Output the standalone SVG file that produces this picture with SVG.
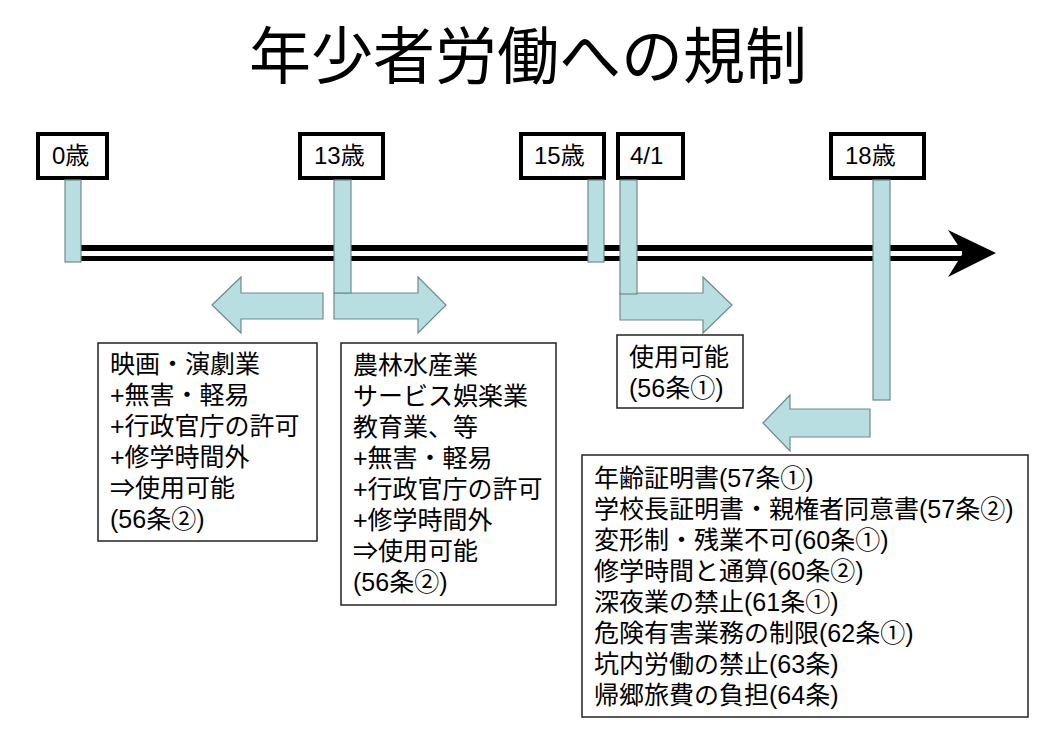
<svg xmlns="http://www.w3.org/2000/svg" width="1059" height="745" viewBox="0 0 1059 745">
<style>
text{font-family:"Liberation Sans","Noto Sans CJK JP",sans-serif;fill:#000}
.t{font-size:62px}
.lbl{font-size:24px}
.bd{font-size:25px}
.lb{fill:#fff;stroke:#000;stroke-width:4}
.bx{fill:#fff;stroke:#222;stroke-width:1.5}
.blue{fill:#B9DEE1;stroke:#6E8B8C;stroke-width:1.2}
</style>
<rect width="1059" height="745" fill="#fff"/>
<text class="t" x="528" y="79" text-anchor="middle">年少者労働への規制</text>

<g id="connectors">
  <rect x="70" y="245" width="895" height="16" fill="#000"/>
  <rect x="70" y="251" width="892" height="5" fill="#fff"/>
  <polygon points="948,230 996,253 948,277 963,253" fill="#000"/>
  <polygon class="blue" points="212,305 241,277 241,293 323,293 323,319 241,319 241,333"/>
  <polygon class="blue" points="334,293 418,293 418,277 446,305 418,333 418,319 334,319"/>
  <polygon class="blue" points="620,293 703,293 703,277 732,305 703,333 703,320 620,320"/>
  <polygon class="blue" points="763,423 790,395 790,409 870,409 870,437 790,437 790,451"/>
</g>

<g id="age0">
  <rect class="lb" x="38" y="134" width="69" height="44"/>
  <text class="lbl" x="52" y="164">0歳</text>
  <rect class="blue" x="65" y="180" width="16" height="82"/>
</g>
<g id="age13">
  <rect class="lb" x="300" y="134" width="83" height="44"/>
  <text class="lbl" x="314" y="164">13歳</text>
  <rect class="blue" x="334" y="180" width="17" height="113"/>
</g>
<g id="age15">
  <rect class="lb" x="521" y="134" width="83" height="44"/>
  <text class="lbl" x="534" y="164">15歳</text>
  <rect class="blue" x="588" y="180" width="16" height="82"/>
</g>
<g id="apr1">
  <rect class="lb" x="618" y="134" width="65" height="44"/>
  <text class="lbl" x="630" y="164">4/1</text>
  <rect class="blue" x="620" y="180" width="17" height="114"/>
</g>
<g id="age18">
  <rect class="lb" x="831" y="134" width="93" height="44"/>
  <text class="lbl" x="845" y="164">18歳</text>
  <rect class="blue" x="873" y="180" width="17" height="220"/>
</g>

<g id="boxA">
  <rect class="bx" x="98" y="343" width="219" height="198"/>
  <text class="bd" x="110" y="373">映画・演劇業</text>
  <text class="bd" x="110" y="404">+無害・軽易</text>
  <text class="bd" x="110" y="435">+行政官庁の許可</text>
  <text class="bd" x="110" y="466">+修学時間外</text>
  <text class="bd" x="110" y="497">⇒使用可能</text>
  <text class="bd" x="110" y="528">(56条②)</text>
</g>
<g id="boxB">
  <rect class="bx" x="341" y="343" width="215" height="262"/>
  <text class="bd" x="353" y="374">農林水産業</text>
  <text class="bd" x="353" y="405">サービス娯楽業</text>
  <text class="bd" x="353" y="436">教育業、等</text>
  <text class="bd" x="353" y="467">+無害・軽易</text>
  <text class="bd" x="353" y="498">+行政官庁の許可</text>
  <text class="bd" x="353" y="529">+修学時間外</text>
  <text class="bd" x="353" y="560">⇒使用可能</text>
  <text class="bd" x="353" y="591">(56条②)</text>
</g>
<g id="boxD">
  <rect class="bx" x="617" y="335" width="126" height="73"/>
  <text class="bd" x="629" y="366">使用可能</text>
  <text class="bd" x="629" y="397">(56条①)</text>
</g>
<g id="boxC">
  <rect class="bx" x="582" y="455" width="446" height="262"/>
  <text class="bd" x="594" y="487">年齢証明書(57条①)</text>
  <text class="bd" x="594" y="518">学校長証明書・親権者同意書(57条②)</text>
  <text class="bd" x="594" y="549">変形制・残業不可(60条①)</text>
  <text class="bd" x="594" y="580">修学時間と通算(60条②)</text>
  <text class="bd" x="594" y="611">深夜業の禁止(61条①)</text>
  <text class="bd" x="594" y="642">危険有害業務の制限(62条①)</text>
  <text class="bd" x="594" y="673">坑内労働の禁止(63条)</text>
  <text class="bd" x="594" y="704">帰郷旅費の負担(64条)</text>
</g>
</svg>
